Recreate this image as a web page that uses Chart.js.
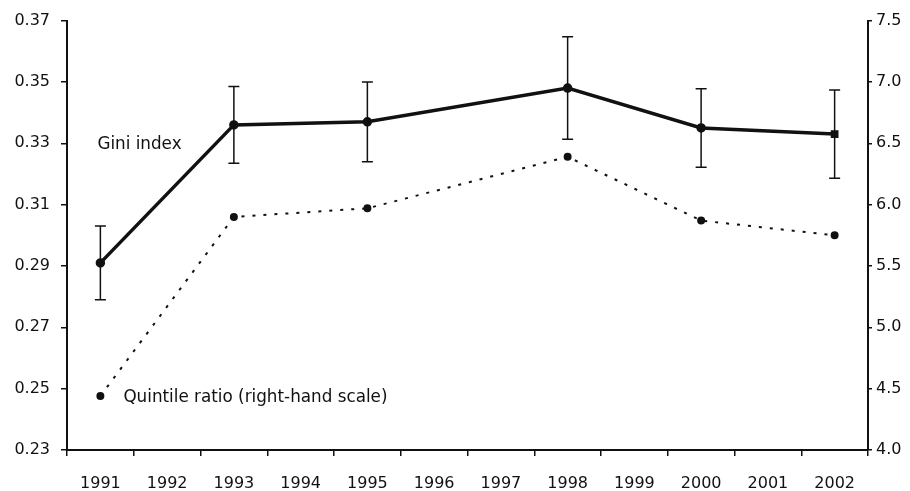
<!DOCTYPE html>
<html>
<head>
<meta charset="utf-8">
<script src="https://cdn.jsdelivr.net/npm/chart.js@4"></script>
<style>
  html, body { margin: 0; padding: 0; background: #fff; }
  #wrap { width: 910px; height: 491px; }
</style>
</head>
<body>
<div id="wrap"><canvas id="chart" width="910" height="491"></canvas></div>
<script>
// ── Data ──
const years = ['1991', '1992', '1993', '1994', '1995', '1996', '1997', '1998', '1999', '2000', '2001', '2002'];
const gini = [0.291, null, 0.336, null, 0.337, null, null, 0.348, null, 0.335, null, 0.333];
const giniErr = [0.012, null, 0.0125, null, 0.013, null, null, 0.0167, null, 0.0128, null, 0.0144];
const quintile = [4.44, null, 5.90, null, 5.97, null, null, 6.39, null, 5.87, null, 5.75];

const leftTicks = [0.23, 0.37, 0.02];
const rightTicks = [4.0, 7.5, 0.5];

const FONT = { family: 'DejaVu Sans', size: 16 };
const NOTE_FONT = '16.8px "DejaVu Sans"';
const INK = '#111';

/** Error bars with caps on the Gini series */
const errorBars = {
  id: 'errorBars',
  afterDatasetsDraw(chart) {
    const meta = chart.getDatasetMeta(0);
    const y = chart.scales.y;
    const ctx = chart.ctx;
    ctx.save();
    ctx.strokeStyle = INK;
    ctx.lineWidth = 1.5;
    gini.forEach((v, i) => {
      if (v == null) return;
      const px = meta.data[i].x;
      const top = y.getPixelForValue(v + giniErr[i]);
      const bot = y.getPixelForValue(v - giniErr[i]);
      ctx.beginPath();
      ctx.moveTo(px, top); ctx.lineTo(px, bot);
      ctx.moveTo(px - 5.5, top); ctx.lineTo(px + 5.5, top);
      ctx.moveTo(px - 5.5, bot); ctx.lineTo(px + 5.5, bot);
      ctx.stroke();
    });
    ctx.restore();
  }
};

/** Series labels in the plot area */
const seriesLabels = {
  id: 'seriesLabels',
  afterDatasetsDraw(chart) {
    const ctx = chart.ctx;
    const x = chart.scales.x;
    const yr = chart.scales.y1;
    const y = chart.scales.y;
    ctx.save();
    ctx.fillStyle = INK;
    ctx.font = NOTE_FONT;
    ctx.textBaseline = 'middle';
    ctx.fillText('Gini index', x.getPixelForValue(0) - 3, y.getPixelForValue(0.3294));
    ctx.fillText('Quintile ratio (right-hand scale)', x.getPixelForValue(0) + 23, yr.getPixelForValue(4.43));
    ctx.restore();
  }
};

new Chart(document.getElementById('chart'), {
  type: 'line',
  data: {
    labels: years,
    datasets: [
      {
        label: 'Gini index',
        data: gini,
        yAxisID: 'y',
        spanGaps: true,
        borderColor: INK,
        borderWidth: 3.5,
        pointRadius: 3,
        pointStyle: gini.map((_, i) => i === gini.length - 1 ? 'rect' : 'circle'),
        pointBackgroundColor: INK,
        pointBorderColor: INK,
        tension: 0,
      },
      {
        label: 'Quintile ratio (right-hand scale)',
        data: quintile,
        yAxisID: 'y1',
        spanGaps: true,
        borderColor: INK,
        borderWidth: 2,
        borderDash: [3, 8],
        pointRadius: 3,
        pointBackgroundColor: INK,
        pointBorderColor: INK,
        tension: 0,
      }
    ]
  },
  plugins: [errorBars, seriesLabels],
  options: {
    responsive: false,
    animation: false,
    layout: { padding: { top: 20, left: 0, right: 0, bottom: 0 } },
    plugins: {
      legend: { display: false },
      tooltip: { enabled: false },
    },
    scales: {
      x: {
        offset: true,
        grid: { offset: true, drawOnChartArea: false, drawTicks: true, tickLength: 6, color: INK, lineWidth: 1.5 },
        border: { display: true, color: INK, width: 2 },
        ticks: { color: INK, font: FONT, padding: 18, maxRotation: 0, autoSkip: false },
        afterFit: (s) => { s.height = 41; },
      },
      y: {
        position: 'left',
        min: leftTicks[0],
        max: leftTicks[1],
        grid: { drawOnChartArea: false, drawTicks: true, tickLength: 6, color: INK, lineWidth: 1.5 },
        border: { display: true, color: INK, width: 2 },
        ticks: {
          stepSize: leftTicks[2],
          color: INK,
          font: FONT,
          padding: 11,
          callback: (v) => Number(v).toFixed(2),
        },
        afterFit: (s) => { s.width = 67; },
      },
      y1: {
        position: 'right',
        min: rightTicks[0],
        max: rightTicks[1],
        grid: { drawOnChartArea: false, drawTicks: true, tickLength: 4, color: INK, lineWidth: 1.5 },
        border: { display: true, color: INK, width: 2 },
        ticks: {
          stepSize: rightTicks[2],
          color: INK,
          font: FONT,
          padding: 4,
          callback: (v) => Number(v).toFixed(1),
        },
        afterFit: (s) => { s.width = 42; },
      }
    }
  }
});
</script>
</body>
</html>
